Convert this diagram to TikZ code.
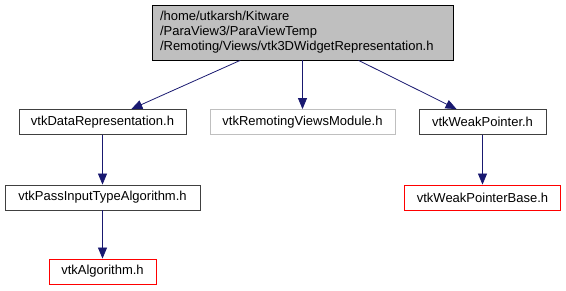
\documentclass[tikz,border=0pt]{standalone}
\usepackage{fontspec}
\setmainfont{Liberation Sans}
\usetikzlibrary{arrows.meta}

\definecolor{edgeblue}{HTML}{191970}
\definecolor{rootgray}{HTML}{BFBFBF}
\definecolor{lightframe}{HTML}{BFBFBF}

\tikzset{
  file/.style={draw=black!75, thick, inner sep=0pt, font=\fontsize{13}{15}\selectfont,
    minimum height=25pt},
  rootfile/.style={file, fill=rootgray, draw=black, align=left, inner xsep=8pt},
  nodoc/.style={file, draw=lightframe},
  missing/.style={file, draw=red},
  incl/.style={draw=edgeblue, thick, -{Triangle[length=11pt, width=9pt]}}
}

\begin{document}
\begin{tikzpicture}[x=1pt, y=-1pt]
  \useasboundingbox (0,0) rectangle (566,291);

  % header being documented
  \node[rootfile, text width=285pt, minimum height=55pt] (widgetrep) at (302.5,32.5)
    {/home/utkarsh/Kitware\\/ParaView3/ParaViewTemp\\/Remoting/Views/vtk3DWidgetRepresentation.h};

  % direct includes
  \node[file, minimum width=167pt] (datarep) at (102.5,122) {vtkDataRepresentation.h};
  \node[nodoc, minimum width=185pt] (viewsmod) at (302.5,122) {vtkRemotingViewsModule.h};
  \node[file, minimum width=127pt] (weakptr) at (482.5,122) {vtkWeakPointer.h};

  % second level
  \node[file, minimum width=195pt] (passinput) at (102.5,197.5) {vtkPassInputTypeAlgorithm.h};
  \node[missing, minimum width=156pt] (weakbase) at (482.5,197.5) {vtkWeakPointerBase.h};

  % third level
  \node[missing, minimum width=107pt] (algo) at (102.5,271.5) {vtkAlgorithm.h};

  % include edges
  \draw[incl] (widgetrep) -- (datarep);
  \draw[incl] (widgetrep) -- (viewsmod);
  \draw[incl] (widgetrep) -- (weakptr);
  \draw[incl] (datarep) -- (passinput);
  \draw[incl] (passinput) -- (algo);
  \draw[incl] (weakptr) -- (weakbase);
\end{tikzpicture}
\end{document}
